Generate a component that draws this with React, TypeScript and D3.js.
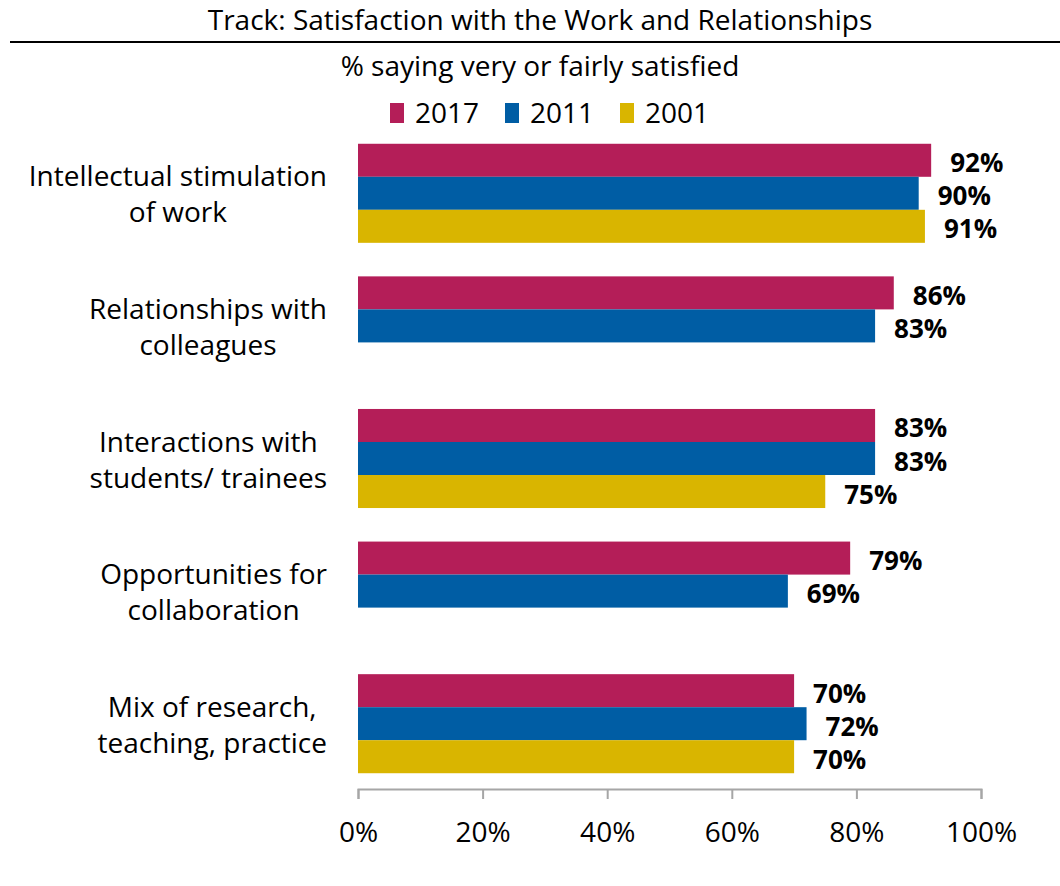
import React, { useEffect, useRef } from "react";
import * as d3 from "d3";

// chart data
const categories = [
  ["Intellectual stimulation", "of work"],
  ["Relationships with", "colleagues"],
  ["Interactions with", "students/ trainees"],
  ["Opportunities for", "collaboration"],
  ["Mix of research,", "teaching, practice"],
];
const seriesNames = ["2017", "2011", "2001"];
const values2017 = [92, 86, 83, 79, 70];
const values2011 = [90, 83, 83, 69, 72];
const values2001: (number | null)[] = [91, null, 75, null, 70];
const xTicks = [0, 20, 40, 60, 80, 100];
const colors = ["#b41e58", "#005da4", "#d9b500"];

const title = "Track: Satisfaction with the Work and Relationships";
const subtitle = "% saying very or fairly satisfied";

const W = 1060;
const H = 886;
const FONT = "'Open Sans', Lato, sans-serif";
const FS = 28;

const renderChart = (svgEl: SVGSVGElement) => {
  const svg = d3.select(svgEl);
  svg.selectAll("*").remove();

  const left = 358, right = 981, top = 127, bottom = 790;
  const x = d3.scaleLinear().domain([0, 100]).range([left, right]);
  const y = d3.scaleBand<number>()
    .domain(d3.range(categories.length))
    .range([top, bottom])
    .paddingInner(0.253)
    .paddingOuter(0.1265);
  const inner = d3.scaleBand<number>()
    .domain([0, 1, 2])
    .range([0, y.bandwidth()]);

  // title + rule
  svg.append("text")
    .attr("x", 540).attr("y", 30)
    .attr("text-anchor", "middle")
    .attr("font-family", FONT).attr("font-size", FS)
    .text(title);
  svg.append("line")
    .attr("x1", 10).attr("x2", W).attr("y1", 42).attr("y2", 42)
    .attr("stroke", "#000").attr("stroke-width", 2);
  svg.append("text")
    .attr("x", 540).attr("y", 76)
    .attr("text-anchor", "middle")
    .attr("font-family", FONT).attr("font-size", FS)
    .text(subtitle);

  // legend
  const legendX = [390, 505, 620];
  seriesNames.forEach((name, i) => {
    svg.append("rect")
      .attr("x", legendX[i]).attr("y", 103)
      .attr("width", 14).attr("height", 20)
      .attr("fill", colors[i]);
    svg.append("text")
      .attr("x", legendX[i] + 25).attr("y", 123)
      .attr("font-family", FONT).attr("font-size", FS)
      .text(name);
  });

  // bars
  const series = [values2017, values2011, values2001];
  series.forEach((vals, si) => {
    vals.forEach((v, ci) => {
      if (v === null) return;
      const by = (y(ci) as number) + (inner(si) as number);
      svg.append("rect")
        .attr("x", x(0)).attr("y", by)
        .attr("width", x(v) - x(0))
        .attr("height", inner.bandwidth())
        .attr("fill", colors[si]);
      svg.append("text")
        .attr("x", x(v) + 19)
        .attr("y", by + inner.bandwidth() / 2 + 12)
        .attr("font-family", FONT).attr("font-size", 26)
        .attr("font-weight", "bold")
        .text(v + "%");
    });
  });

  // category labels: lines centred on each other, block right-aligned
  categories.forEach((lines, ci) => {
    const cy = (y(ci) as number) + y.bandwidth() / 2;
    const g = svg.append("g");
    const texts = lines.map((ln, li) =>
      g.append("text")
        .attr("y", cy + (li === 0 ? -7 : 29))
        .attr("text-anchor", "middle")
        .attr("font-family", FONT).attr("font-size", FS)
        .text(ln)
    );
    const maxW = d3.max(texts, t => (t.node() as SVGTextElement).getComputedTextLength()) || 0;
    texts.forEach(t => t.attr("x", 327 - maxW / 2));
  });

  // x axis
  const axisG = svg.append("g")
    .attr("transform", `translate(0, ${bottom - 1})`)
    .call(d3.axisBottom(x).tickValues(xTicks).tickSize(10).tickSizeOuter(10).tickFormat(d => d + "%"));
  axisG.selectAll("path, line").attr("stroke", "#a6a6a6").attr("stroke-width", 2);
  axisG.selectAll("text")
    .attr("font-family", FONT).attr("font-size", FS)
    .attr("fill", "#000").attr("dy", 0).attr("y", 53);
};

export default function App() {
  const ref = useRef<SVGSVGElement>(null);
  useEffect(() => {
    if (ref.current) renderChart(ref.current);
  }, []);
  return (
    <svg ref={ref} width={W} height={H}
      style={{ position: "absolute", left: 0, top: 0, background: "#fff" }} />
  );
}
